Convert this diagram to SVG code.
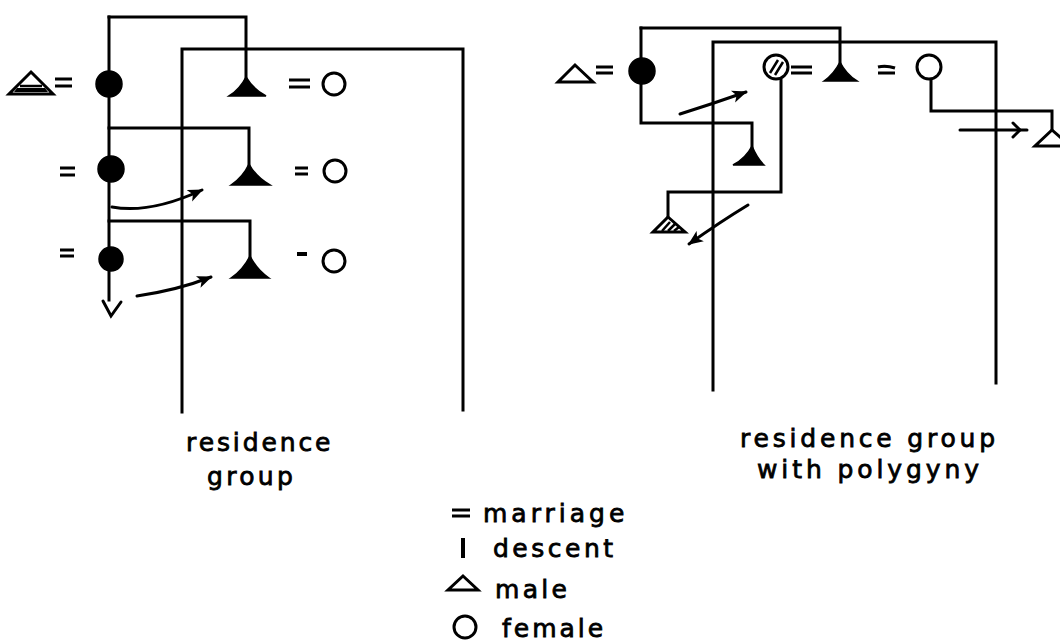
<svg xmlns="http://www.w3.org/2000/svg" width="1060" height="642" viewBox="0 0 1060 642">
  <defs>
    <style>
      .ln { fill: none; stroke: #000; stroke-width: 3; stroke-linecap: square; stroke-linejoin: miter; }
      .arr { fill: none; stroke: #000; stroke-width: 3; stroke-linecap: round; }
      .eq { stroke: #000; stroke-width: 3; }
      .solid { fill: #000; stroke: #000; stroke-width: 1.5; }
      .open { fill: #fff; stroke: #000; stroke-width: 3; }
      .hatch { stroke: #000; stroke-width: 2.5; fill: none; }
      .lbl { font-family: "DejaVu Sans", "Liberation Sans", sans-serif; font-size: 25px; fill: #000; stroke: #000; stroke-width: 0.8; }
    </style>
    <marker id="head" viewBox="0 0 12 10" refX="11" refY="5" markerWidth="5" markerHeight="4.5" orient="auto" markerUnits="strokeWidth">
      <path d="M0,0 L12,5 L0,10 L3,5 Z" fill="#000"/>
    </marker>
  </defs>

  <!-- descent and residence lines -->
  <g id="connectors">
    <!-- left: residence group boundary -->
    <path class="ln" d="M182,412 L182,49 L463,49 L463,410"/>
    <!-- left: generation 1 sibling bracket -->
    <path class="ln" d="M109,17 L246,17 L246,78"/>
    <path class="ln" d="M109,17 L109,300"/>
    <!-- left: generation 2 sibling bracket -->
    <path class="ln" d="M109,128 L249,128 L249,165"/>
    <!-- left: generation 3 sibling bracket -->
    <path class="ln" d="M109,221 L250,221 L250,258"/>
    <!-- left: descent onward -->
    <path class="arr" d="M103,301 L111,316 L121,302"/>
    <!-- left: moves of daughters' husbands -->
    <path class="arr" d="M112,207 Q150,214 202,190" marker-end="url(#head)"/>
    <path class="arr" d="M137,296 Q178,290 211,277" marker-end="url(#head)"/>

    <!-- right: residence group boundary -->
    <path class="ln" d="M713,390 L713,42 L996,42 L996,383"/>
    <!-- right: sibling bracket -->
    <path class="ln" d="M641,28 L840,28 L840,63"/>
    <path class="ln" d="M641,28 L641,123 L752,123 L752,147"/>
    <!-- right: second wife's son -->
    <path class="ln" d="M781,80 L781,192 L668,192 L668,218"/>
    <!-- right: sister's son -->
    <path class="ln" d="M931,79 L931,111 L1052,111 L1052,130"/>
    <!-- right: moves -->
    <path class="arr" d="M680,114 Q712,104 746,92" marker-end="url(#head)"/>
    <path class="arr" d="M748,205 Q720,222 689,244" marker-end="url(#head)"/>
    <path class="arr" d="M960,130 L1027,130"/>
    <path class="arr" d="M1013,123 L1020,130 L1013,137"/>
  </g>

  <!-- left diagram: generation 1 -->
  <g id="l-husband1">
    <path class="open" d="M31,72 L53,94 L9,94 Z"/>
    <path class="hatch" d="M20,86 L42,86"/>
    <path d="M17,88 L45,88 L48,92 L14,92 Z" fill="#000"/>
  </g>
  <g id="l-eq1"><path class="eq" d="M55,79 L72,79 M55,86 L72,86"/></g>
  <g id="l-woman1"><circle cx="109" cy="84" r="13" class="solid"/></g>
  <g id="l-man1"><path class="solid" d="M246,77 Q253,89 266,96 L229,96 Q240,89 246,77 Z"/></g>
  <g id="l-eq1b"><path class="eq" d="M289,80 L310,80 M289,87 L310,87"/></g>
  <g id="l-wife1"><circle cx="334" cy="84" r="11" class="open"/></g>

  <!-- left diagram: generation 2 -->
  <g id="l-eq2"><path class="eq" d="M60,168 L75,168 M60,175 L75,175"/></g>
  <g id="l-woman2"><circle cx="111" cy="169" r="13" class="solid"/></g>
  <g id="l-man2"><path class="solid" d="M249,164 Q256,177 270,185 L231,185 Q243,177 249,164 Z"/></g>
  <g id="l-eq2b"><path class="eq" d="M295,168 L308,168 M295,174 L308,174"/></g>
  <g id="l-wife2"><circle cx="335" cy="171" r="11" class="open"/></g>

  <!-- left diagram: generation 3 -->
  <g id="l-eq3"><path class="eq" d="M60,250 L74,250 M60,256 L74,256"/></g>
  <g id="l-woman3"><circle cx="111" cy="259" r="12" class="solid"/></g>
  <g id="l-man3"><path class="solid" d="M250,256 Q257,270 269,278 L231,278 Q243,270 250,256 Z"/></g>
  <g id="l-eq3b"><path d="M297,252 L307,252 L307,256 L297,256 Z" fill="#000"/></g>
  <g id="l-wife3"><circle cx="334" cy="261" r="11" class="open"/></g>

  <!-- right diagram -->
  <g id="r-husband"><path class="open" d="M575,65 L593,82 L558,82 Z"/></g>
  <g id="r-eq1"><path class="eq" d="M596,67 L613,67 M596,73 L613,73"/></g>
  <g id="r-woman"><circle cx="642" cy="71" r="13" class="solid"/></g>
  <g id="r-wife2">
    <circle cx="776" cy="67" r="12" class="open"/>
    <path class="hatch" d="M770,73 L778,60 M775,75 L783,62"/>
  </g>
  <g id="r-eq2"><path class="eq" d="M791,67 L812,67 M791,73 L812,73"/></g>
  <g id="r-man"><path class="solid" d="M840,62 Q846,74 857,81 L824,81 Q834,74 840,62 Z"/></g>
  <g id="r-eq3"><path class="eq" d="M878,67 Q886,65 895,68 M878,73 L895,73"/></g>
  <g id="r-wife1"><circle cx="929" cy="67" r="12" class="open"/></g>
  <g id="r-son1"><path class="solid" d="M752,146 Q757,158 764,165 L733,165 Q746,158 752,146 Z"/></g>
  <g id="r-son2">
    <path class="open" d="M668,217 L685,232 L653,232 Z"/>
    <path class="hatch" d="M662,231 L670,222 M668,231 L675,224 M674,231 L679,227"/>
  </g>
  <g id="r-nephew"><path class="open" d="M1052,130 L1070,146 L1035,146 Z"/></g>

  <!-- captions -->
  <g id="captions">
    <text class="lbl" x="186" y="451" letter-spacing="2.9">residence</text>
    <text class="lbl" x="207" y="485" letter-spacing="3.3">group</text>
    <text class="lbl" x="740" y="447" letter-spacing="3.8">residence group</text>
    <text class="lbl" x="757" y="478" letter-spacing="3.9">with polygyny</text>
  </g>

  <!-- legend -->
  <g id="legend">
    <path class="eq" d="M452,510 L470,510 M452,516 L470,516"/>
    <text class="lbl" x="483" y="522" letter-spacing="4">marriage</text>
    <path d="M463,538 L463,558" stroke="#000" stroke-width="4"/>
    <text class="lbl" x="493" y="557" letter-spacing="3.5">descent</text>
    <path class="open" d="M463,576 L478,590 L448,590 Z"/>
    <text class="lbl" x="495" y="598" letter-spacing="3.3">male</text>
    <circle cx="465" cy="627" r="11" class="open"/>
    <text class="lbl" x="502" y="637" letter-spacing="3">female</text>
  </g>
</svg>
